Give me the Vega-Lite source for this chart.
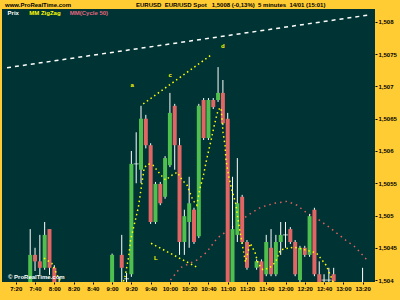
{
  "$schema": "https://vega.github.io/schema/vega-lite/v6.json",
  "width": 373,
  "height": 273,
  "autosize": {"type": "none"},
  "padding": {"left": 2, "top": 9, "right": 25, "bottom": 18},
  "background": "#ffcc33",
  "view": {"fill": "#003333", "stroke": null},
  "config": {
    "font": "Liberation Sans",
    "axis": {"labelOverlap": false, "labelFlush": false, "labelBound": false}
  },
  "title": {
    "text": "www.ProRealTime.com\u00a0\u00a0\u00a0\u00a0\u00a0\u00a0\u00a0\u00a0\u00a0\u00a0\u00a0\u00a0\u00a0\u00a0\u00a0\u00a0\u00a0\u00a0\u00a0\u00a0\u00a0\u00a0\u00a0\u00a0\u00a0\u00a0\u00a0\u00a0\u00a0\u00a0\u00a0\u00a0\u00a0\u00a0\u00a0\u00a0\u00a0\u00a0\u00a0EURUSD\u00a0\u00a0EUR/USD Spot\u00a0\u00a0\u00a01,5008 (-0,13%)\u00a0\u00a05 minutes\u00a0\u00a014/01 (15:01)",
    "anchor": "start",
    "frame": "group",
    "fontSize": 6,
    "fontWeight": "bold",
    "color": "#000000",
    "offset": 1,
    "dx": 3
  },
  "datasets": {
    "candles": [
      {"m": 455, "o": 1.50385, "h": 1.50479, "l": 1.50377, "c": 1.50439},
      {"m": 460, "o": 1.50439, "h": 1.50450, "l": 1.50414, "c": 1.50429},
      {"m": 465, "o": 1.50429, "h": 1.50470, "l": 1.50408, "c": 1.50419},
      {"m": 470, "o": 1.50419, "h": 1.50490, "l": 1.50416, "c": 1.50470},
      {"m": 475, "o": 1.50479, "h": 1.50479, "l": 1.50408, "c": 1.50419},
      {"m": 480, "o": 1.50419, "h": 1.50423, "l": 1.50377, "c": 1.50385},
      {"m": 485, "o": 1.50395, "h": 1.50405, "l": 1.50380, "c": 1.50395},
      {"m": 540, "o": 1.50385, "h": 1.50441, "l": 1.50377, "c": 1.50439},
      {"m": 550, "o": 1.50439, "h": 1.50470, "l": 1.50397, "c": 1.50419},
      {"m": 555, "o": 1.50402, "h": 1.50411, "l": 1.50380, "c": 1.50402},
      {"m": 560, "o": 1.50409, "h": 1.50600, "l": 1.50405, "c": 1.50580},
      {"m": 565, "o": 1.50580, "h": 1.50629, "l": 1.50550, "c": 1.50580},
      {"m": 570, "o": 1.50571, "h": 1.50670, "l": 1.50550, "c": 1.50650},
      {"m": 575, "o": 1.50650, "h": 1.50656, "l": 1.50604, "c": 1.50609},
      {"m": 580, "o": 1.50609, "h": 1.50612, "l": 1.50487, "c": 1.50490},
      {"m": 585, "o": 1.50490, "h": 1.50552, "l": 1.50487, "c": 1.50549},
      {"m": 590, "o": 1.50549, "h": 1.50552, "l": 1.50516, "c": 1.50519},
      {"m": 595, "o": 1.50529, "h": 1.50592, "l": 1.50526, "c": 1.50589},
      {"m": 600, "o": 1.50578, "h": 1.50690, "l": 1.50575, "c": 1.50659},
      {"m": 605, "o": 1.50670, "h": 1.50673, "l": 1.50571, "c": 1.50609},
      {"m": 610, "o": 1.50609, "h": 1.50620, "l": 1.50439, "c": 1.50459},
      {"m": 615, "o": 1.50459, "h": 1.50509, "l": 1.50439, "c": 1.50499},
      {"m": 620, "o": 1.50490, "h": 1.50560, "l": 1.50450, "c": 1.50519},
      {"m": 625, "o": 1.50509, "h": 1.50512, "l": 1.50456, "c": 1.50459},
      {"m": 630, "o": 1.50468, "h": 1.50673, "l": 1.50465, "c": 1.50670},
      {"m": 635, "o": 1.50679, "h": 1.50682, "l": 1.50617, "c": 1.50620},
      {"m": 640, "o": 1.50620, "h": 1.50682, "l": 1.50617, "c": 1.50679},
      {"m": 645, "o": 1.50679, "h": 1.50682, "l": 1.50665, "c": 1.50668},
      {"m": 650, "o": 1.50679, "h": 1.50730, "l": 1.50676, "c": 1.50690},
      {"m": 655, "o": 1.50690, "h": 1.50710, "l": 1.50640, "c": 1.50643},
      {"m": 660, "o": 1.50650, "h": 1.50659, "l": 1.50377, "c": 1.50385},
      {"m": 665, "o": 1.50385, "h": 1.50560, "l": 1.50377, "c": 1.50479},
      {"m": 670, "o": 1.50470, "h": 1.50589, "l": 1.50459, "c": 1.50519},
      {"m": 675, "o": 1.50529, "h": 1.50532, "l": 1.50456, "c": 1.50459},
      {"m": 680, "o": 1.50459, "h": 1.50462, "l": 1.50416, "c": 1.50419},
      {"m": 690, "o": 1.50419, "h": 1.50432, "l": 1.50416, "c": 1.50429},
      {"m": 695, "o": 1.50429, "h": 1.50432, "l": 1.50377, "c": 1.50385},
      {"m": 700, "o": 1.50409, "h": 1.50470, "l": 1.50406, "c": 1.50459},
      {"m": 705, "o": 1.50450, "h": 1.50479, "l": 1.50406, "c": 1.50409},
      {"m": 710, "o": 1.50409, "h": 1.50470, "l": 1.50406, "c": 1.50459},
      {"m": 715, "o": 1.50459, "h": 1.50490, "l": 1.50439, "c": 1.50470},
      {"m": 720, "o": 1.50470, "h": 1.50490, "l": 1.50450, "c": 1.50470},
      {"m": 725, "o": 1.50479, "h": 1.50482, "l": 1.50456, "c": 1.50459},
      {"m": 730, "o": 1.50459, "h": 1.50462, "l": 1.50406, "c": 1.50409},
      {"m": 735, "o": 1.50400, "h": 1.50453, "l": 1.50397, "c": 1.50450},
      {"m": 740, "o": 1.50450, "h": 1.50453, "l": 1.50436, "c": 1.50439},
      {"m": 745, "o": 1.50439, "h": 1.50502, "l": 1.50436, "c": 1.50499},
      {"m": 750, "o": 1.50509, "h": 1.50512, "l": 1.50406, "c": 1.50409},
      {"m": 755, "o": 1.50409, "h": 1.50429, "l": 1.50385, "c": 1.50397},
      {"m": 760, "o": 1.50400, "h": 1.50409, "l": 1.50380, "c": 1.50400},
      {"m": 765, "o": 1.50400, "h": 1.50419, "l": 1.50380, "c": 1.50400},
      {"m": 770, "o": 1.50409, "h": 1.50419, "l": 1.50385, "c": 1.50398},
      {"m": 800, "o": 1.50392, "h": 1.50419, "l": 1.50380, "c": 1.50392}
    ],
    "trend": [
      {"m": 430.9, "p": 1.50729},
      {"m": 807.7, "p": 1.50811}
    ],
    "waves": [
      {"seg": "up", "m": 572.3, "p": 1.50673},
      {"seg": "up", "m": 643.0, "p": 1.50749},
      {"seg": "low", "m": 580.4, "p": 1.50457},
      {"seg": "low", "m": 627.9, "p": 1.50420}
    ],
    "zigzag": [
      {"m": 469.3, "p": 1.50434},
      {"m": 477.4, "p": 1.50426},
      {"m": 484.5, "p": 1.50403},
      {"m": 494.6, "p": 1.50381},
      {"m": 548.1, "p": 1.50385},
      {"m": 553.1, "p": 1.50403},
      {"m": 557.2, "p": 1.50436},
      {"m": 559.2, "p": 1.50462},
      {"m": 567.3, "p": 1.50513},
      {"m": 573.3, "p": 1.50574},
      {"m": 577.4, "p": 1.50580},
      {"m": 582.4, "p": 1.50578},
      {"m": 590.5, "p": 1.50563},
      {"m": 595.6, "p": 1.50555},
      {"m": 602.6, "p": 1.50563},
      {"m": 607.7, "p": 1.50567},
      {"m": 612.7, "p": 1.50555},
      {"m": 617.8, "p": 1.50547},
      {"m": 623.8, "p": 1.50524},
      {"m": 627.9, "p": 1.50516},
      {"m": 630.9, "p": 1.50540},
      {"m": 634.9, "p": 1.50563},
      {"m": 638.0, "p": 1.50586},
      {"m": 642.0, "p": 1.50612},
      {"m": 646.1, "p": 1.50640},
      {"m": 650.1, "p": 1.50664},
      {"m": 653.1, "p": 1.50667},
      {"m": 655.2, "p": 1.50628},
      {"m": 657.2, "p": 1.50609},
      {"m": 658.2, "p": 1.50586},
      {"m": 661.2, "p": 1.50560},
      {"m": 664.2, "p": 1.50540},
      {"m": 668.3, "p": 1.50519},
      {"m": 671.3, "p": 1.50488},
      {"m": 674.3, "p": 1.50462},
      {"m": 678.4, "p": 1.50428},
      {"m": 683.4, "p": 1.50457},
      {"m": 688.5, "p": 1.50442},
      {"m": 691.5, "p": 1.50426},
      {"m": 696.6, "p": 1.50416},
      {"m": 703.6, "p": 1.50419},
      {"m": 709.7, "p": 1.50428},
      {"m": 714.7, "p": 1.50447},
      {"m": 728.9, "p": 1.50451},
      {"m": 740.0, "p": 1.50447},
      {"m": 752.1, "p": 1.50442},
      {"m": 762.2, "p": 1.50423},
      {"m": 767.3, "p": 1.50405},
      {"m": 772.3, "p": 1.50385}
    ],
    "arc": [
      {"m": 600.6, "p": 1.50400},
      {"m": 610.7, "p": 1.50419},
      {"m": 627.9, "p": 1.50431},
      {"m": 638.0, "p": 1.50443},
      {"m": 649.1, "p": 1.50465},
      {"m": 661.2, "p": 1.50478},
      {"m": 681.4, "p": 1.50501},
      {"m": 694.5, "p": 1.50513},
      {"m": 708.7, "p": 1.50519},
      {"m": 721.8, "p": 1.50522},
      {"m": 731.9, "p": 1.50516},
      {"m": 742.0, "p": 1.50504},
      {"m": 752.1, "p": 1.50496},
      {"m": 765.3, "p": 1.50482},
      {"m": 782.4, "p": 1.50462},
      {"m": 792.5, "p": 1.50451},
      {"m": 804.7, "p": 1.50431}
    ],
    "notes": [
      {"m": 431.5, "p": 1.50814, "label": "Prix", "series": "price"},
      {"m": 454.0, "p": 1.50814, "label": "MM ZigZag", "series": "zigzag"},
      {"m": 496.0, "p": 1.50814, "label": "MM(Cycle 50)", "series": "arc"},
      {"m": 431.9, "p": 1.50405, "label": "© ProRealTime.com", "series": "price"},
      {"m": 559.2, "p": 1.50702, "label": "a", "series": "zigzag"},
      {"m": 598.6, "p": 1.50718, "label": "c", "series": "zigzag"},
      {"m": 653.1, "p": 1.50763, "label": "d", "series": "zigzag"},
      {"m": 583.4, "p": 1.50434, "label": "L", "series": "zigzag"}
    ]
  },
  "encoding": {
    "x": {
      "field": "m", "type": "quantitative",
      "scale": {"domain": [430.9, 807.7], "zero": false, "nice": false},
      "axis": {
        "orient": "bottom",
        "values": [440, 460, 480, 500, 520, 540, 560, 580, 600, 620, 640, 660, 680, 700, 720, 740, 760, 780, 800],
        "tickCount": 19,
        "labelExpr": "floor(datum.value / 60) + ':' + (datum.value % 60 < 10 ? '0' : '') + (datum.value % 60)",
        "labelFontSize": 6, "labelFontWeight": "bold", "labelColor": "#000000",
        "tickColor": "#000000", "tickSize": 2, "labelPadding": 1,
        "labelFlush": false, "labelOverlap": false,
        "domain": false, "grid": false, "title": null
      }
    }
  },
  "layer": [
    {
      "data": {"name": "trend"},
      "mark": {"type": "line", "color": "#ffffff", "strokeWidth": 1.5, "strokeDash": [4, 4], "clip": true},
      "encoding": {
        "y": {
          "field": "p", "type": "quantitative",
          "scale": {"domain": [1.50397, 1.5082], "zero": false, "nice": false},
          "axis": {
            "orient": "right", "values": [1.504, 1.5045, 1.505, 1.5055, 1.506, 1.5065, 1.507, 1.5075, 1.508],
            "tickCount": 9,
            "format": ".4~f", "labelExpr": "replace(datum.label, '.', ',')",
            "labelFontSize": 6, "labelFontWeight": "bold", "labelColor": "#000000",
            "tickColor": "#000000", "tickSize": 2, "labelPadding": 1,
            "domain": false, "grid": false, "title": null, "labelOverlap": false
          }
        }
      }
    },
    {
      "data": {"name": "arc"},
      "mark": {"type": "line", "color": "#e06060", "strokeWidth": 1.5, "strokeDash": [1.5, 4], "clip": true},
      "encoding": {
        "y": {"field": "p", "type": "quantitative"}
      }
    },
    {
      "data": {"name": "candles"},
      "mark": {"type": "rule", "color": "#ffffff", "strokeWidth": 1, "clip": true},
      "encoding": {
        "y": {"field": "l", "type": "quantitative"},
        "y2": {"field": "h"}
      }
    },
    {
      "data": {"name": "candles"},
      "mark": {"type": "bar", "width": 4, "clip": true},
      "encoding": {
        "y": {"field": "o", "type": "quantitative"},
        "y2": {"field": "c"},
        "color": {
          "condition": {"test": "datum.c >= datum.o", "value": "#4fc04f"},
          "value": "#e06666"
        }
      }
    },
    {
      "data": {"name": "candles"},
      "transform": [{"filter": "datum.o == datum.c"}],
      "mark": {"type": "tick", "orient": "horizontal", "color": "#ffffff", "size": 5, "thickness": 1, "clip": true},
      "encoding": {
        "y": {"field": "o", "type": "quantitative"}
      }
    },
    {
      "data": {"name": "zigzag"},
      "mark": {"type": "line", "color": "#ffff00", "strokeWidth": 1.5, "strokeDash": [1.5, 3], "clip": true},
      "encoding": {
        "y": {"field": "p", "type": "quantitative"}
      }
    },
    {
      "data": {"name": "waves"},
      "mark": {"type": "line", "color": "#ffff00", "strokeWidth": 1.5, "strokeDash": [1.5, 3], "clip": true},
      "encoding": {
        "y": {"field": "p", "type": "quantitative"},
        "detail": {"field": "seg"}
      }
    },
    {
      "data": {"name": "notes"},
      "mark": {"type": "text", "align": "left", "baseline": "middle", "fontSize": 6, "fontWeight": "bold"},
      "encoding": {
        "y": {"field": "p", "type": "quantitative"},
        "text": {"field": "label"},
        "color": {
          "field": "series", "type": "nominal", "legend": null,
          "scale": {"domain": ["price", "zigzag", "arc"], "range": ["#ffffff", "#ffff00", "#e06680"]}
        }
      }
    }
  ]
}
